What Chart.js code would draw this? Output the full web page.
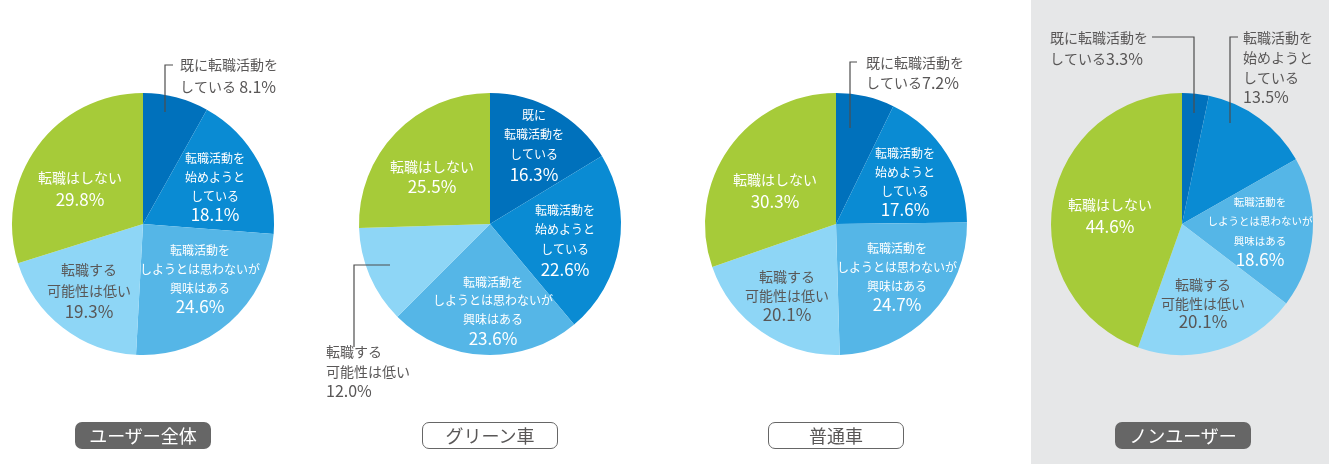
<!DOCTYPE html>
<html lang="ja">
<head>
<meta charset="utf-8">
<title>転職意向</title>
<script src="https://cdn.jsdelivr.net/npm/chart.js@4.4.1/dist/chart.umd.min.js"></script>
<style>
  html, body { margin: 0; padding: 0; background: #fff; overflow: hidden; }
  body { width: 1329px; height: 464px; position: relative; font-family: "Noto Sans CJK JP", "Noto Sans", sans-serif; }
  .panel { position: absolute; left: 1031px; top: 0; width: 298px; height: 464px; background: #e6e7e8; }
  canvas.pie { position: absolute; left: 0; top: 0; }
  .tag {
    position: absolute; top: 422px; width: 136px; height: 27px; box-sizing: border-box;
    border-radius: 7px; font-size: 18px; line-height: 27px; text-align: center; letter-spacing: 0;
  }
  .tag.dark { background: #666; color: #fff; }
  .tag.light { background: #fff; color: #595757; border: 1.5px solid #666; line-height: 24px; }
</style>
</head>
<body>
<div class="panel"></div>
<canvas class="pie" id="pieAll" width="1329" height="464"></canvas>
<canvas class="pie" id="pieGreen" width="1329" height="464"></canvas>
<canvas class="pie" id="pieRegular" width="1329" height="464"></canvas>
<canvas class="pie" id="pieNon" width="1329" height="464"></canvas>
<div class="tag dark" style="left:75px">ユーザー全体</div>
<div class="tag light" style="left:422px">グリーン車</div>
<div class="tag light" style="left:768px">普通車</div>
<div class="tag dark" style="left:1115px">ノンユーザー</div>
<script>
// -------------------------------
// Data
// -------------------------------
const categories = [
  "既に転職活動をしている",
  "転職活動を始めようとしている",
  "転職活動をしようとは思わないが興味はある",
  "転職する可能性は低い",
  "転職はしない",
];
const groups = ["ユーザー全体", "グリーン車", "普通車", "ノンユーザー"];

const userAllValues = [8.1, 18.1, 24.6, 19.3, 29.8];
const greenValues = [16.3, 22.6, 23.6, 12.0, 25.5];
const regularValues = [7.2, 17.6, 24.7, 20.1, 30.3];
const nonUserValues = [3.3, 13.5, 18.6, 20.1, 44.6];

const sliceColors = ["#0071bc", "#0a8bd3", "#55b6e7", "#8ed6f6", "#a6cb39"];

const GRAY = "#595757";
const WHITE = "#ffffff";

// -------------------------------
// Label layouts ({v} = slice value)
// at: offset from pie centre of the first line, gap: line pitch
// -------------------------------
const userAllLabels = [
  { lines: ["既に転職活動を", "している {v}"], at: [37, -159], gap: 22, align: "left", color: GRAY, size: 14, num: 16,
    leader: [[22, -112], [22, -159], [30, -159]] },
  { lines: ["転職活動を", "始めようと", "している", "{v}"], at: [72, -66], gap: 19, color: WHITE, size: 12, num: 17 },
  { lines: ["転職活動を", "しようとは思わないが", "興味はある", "{v}"], at: [57, 26], gap: 19, color: WHITE, size: 12, num: 17 },
  { lines: ["転職する", "可能性は低い", "{v}"], at: [-54, 46], gap: 21, color: GRAY, size: 14, num: 17 },
  { lines: ["転職はしない", "{v}"], at: [-63, -46], gap: 22, color: WHITE, size: 14, num: 17 },
];
const greenLabels = [
  { lines: ["既に", "転職活動を", "している", "{v}"], at: [44, -109], gap: 19.7, color: WHITE, size: 12, num: 17 },
  { lines: ["転職活動を", "始めようと", "している", "{v}"], at: [75, -14], gap: 19.7, color: WHITE, size: 12, num: 17 },
  { lines: ["転職活動を", "しようとは思わないが", "興味はある", "{v}"], at: [3, 58], gap: 18.7, color: WHITE, size: 12, num: 17 },
  { lines: ["転職する", "可能性は低い", "{v}"], at: [-164, 128], gap: 19.5, align: "left", color: GRAY, size: 14, num: 16,
    leader: [[-136, 123], [-136, 41], [-100, 41]] },
  { lines: ["転職はしない", "{v}"], at: [-58, -57], gap: 20, color: WHITE, size: 14, num: 17 },
];
const regularLabels = [
  { lines: ["既に転職活動を", "している{v}"], at: [30, -161], gap: 20, align: "left", color: GRAY, size: 14, num: 16,
    leader: [[14, -96], [14, -162], [21, -162]] },
  { lines: ["転職活動を", "始めようと", "している", "{v}"], at: [69, -71], gap: 19, color: WHITE, size: 12, num: 17 },
  { lines: ["転職活動を", "しようとは思わないが", "興味はある", "{v}"], at: [61, 24], gap: 19, color: WHITE, size: 12, num: 17 },
  { lines: ["転職する", "可能性は低い", "{v}"], at: [-49, 53], gap: 19, color: GRAY, size: 14, num: 17 },
  { lines: ["転職はしない", "{v}"], at: [-61, -44], gap: 22, color: WHITE, size: 14, num: 17 },
];
const nonUserLabels = [
  { lines: ["既に転職活動を", "している{v}"], at: [-132, -186], gap: 21, align: "left", color: GRAY, size: 14, num: 16,
    leader: [[12, -111], [12, -187], [-30, -187]] },
  { lines: ["転職活動を", "始めようと", "している", "{v}"], at: [61, -186], gap: 19.7, align: "left", color: GRAY, size: 14, num: 16,
    leader: [[48, -101], [48, -187], [56, -187]] },
  { lines: ["転職活動を", "しようとは思わないが", "興味はある", "{v}"], at: [78, -22], gap: 19.3, color: WHITE, size: 10.5, num: 17 },
  { lines: ["転職する", "可能性は低い", "{v}"], at: [21, 61], gap: 18.5, color: GRAY, size: 14, num: 17 },
  { lines: ["転職はしない", "{v}"], at: [-72, -19], gap: 22, color: WHITE, size: 14, num: 17 },
];

// -------------------------------
// Helpers
// -------------------------------
const FONT = '"Noto Sans CJK JP", "Noto Sans", sans-serif';
const fmt = (v) => `${Number(v).toFixed(1)}%`;

// split a line into kana/kanji runs and number runs (numbers drawn bigger)
function runsOf(text) {
  return text.match(/[0-9.%]+|[^0-9.%]+/g) || [];
}

function drawLine(ctx, text, x, y, align, lbl) {
  const runs = runsOf(text).map((t) => {
    const isNum = /^[0-9.%]+$/.test(t);
    const font = `${isNum ? lbl.num : lbl.size}px ${FONT}`;
    ctx.font = font;
    return { t, font, w: ctx.measureText(t).width };
  });
  const total = runs.reduce((s, r) => s + r.w, 0);
  let cx = align === "left" ? x : x - total / 2;
  ctx.textAlign = "left";
  runs.forEach((r) => {
    ctx.font = r.font;
    ctx.fillText(r.t, cx, y);
    cx += r.w;
  });
}

const sliceLabelPlugin = {
  id: "sliceLabels",
  afterDatasetsDraw(chart, args, opts) {
    const meta = chart.getDatasetMeta(0);
    if (!meta.data.length) return;
    const ox = meta.data[0].x;
    const oy = meta.data[0].y;
    const values = chart.data.datasets[0].data;
    const ctx = chart.ctx;
    ctx.save();
    ctx.textBaseline = "middle";
    opts.items.forEach((lbl, i) => {
      if (lbl.leader) {
        ctx.beginPath();
        ctx.strokeStyle = "#4d4d4d";
        ctx.lineWidth = 1.2;
        lbl.leader.forEach(([dx, dy], k) => {
          if (k === 0) ctx.moveTo(ox + dx, oy + dy);
          else ctx.lineTo(ox + dx, oy + dy);
        });
        ctx.stroke();
      }
      ctx.fillStyle = lbl.color;
      lbl.lines.forEach((line, k) => {
        const text = line.replace("{v}", fmt(values[i]));
        drawLine(ctx, text, ox + lbl.at[0], oy + lbl.at[1] + k * lbl.gap, lbl.align || "center", lbl);
      });
    });
    ctx.restore();
  },
};

// -------------------------------
// Pie charts
// -------------------------------
const PIE_R = 131;
const PIE_CY = 224;

function renderPie(canvasId, title, values, labels, cx) {
  return new Chart(document.getElementById(canvasId).getContext("2d"), {
    type: "pie",
    data: {
      labels: categories,
      datasets: [
        {
          label: title,
          data: values,
          backgroundColor: sliceColors,
          borderWidth: 0,
          hoverOffset: 0,
          offset: 0,
        },
      ],
    },
    options: {
      responsive: false,
      animation: false,
      devicePixelRatio: 1,
      events: [],
      rotation: 0,
      layout: {
        padding: {
          left: cx - PIE_R,
          right: 1329 - cx - PIE_R,
          top: PIE_CY - PIE_R,
          bottom: 464 - PIE_CY - PIE_R,
        },
      },
      plugins: {
        legend: { display: false },
        tooltip: { enabled: false },
        sliceLabels: { items: labels },
      },
    },
    plugins: [sliceLabelPlugin],
  });
}

renderPie("pieAll", groups[0], userAllValues, userAllLabels, 143);
renderPie("pieGreen", groups[1], greenValues, greenLabels, 490);
renderPie("pieRegular", groups[2], regularValues, regularLabels, 836);
renderPie("pieNon", groups[3], nonUserValues, nonUserLabels, 1182);
</script>
</body>
</html>
